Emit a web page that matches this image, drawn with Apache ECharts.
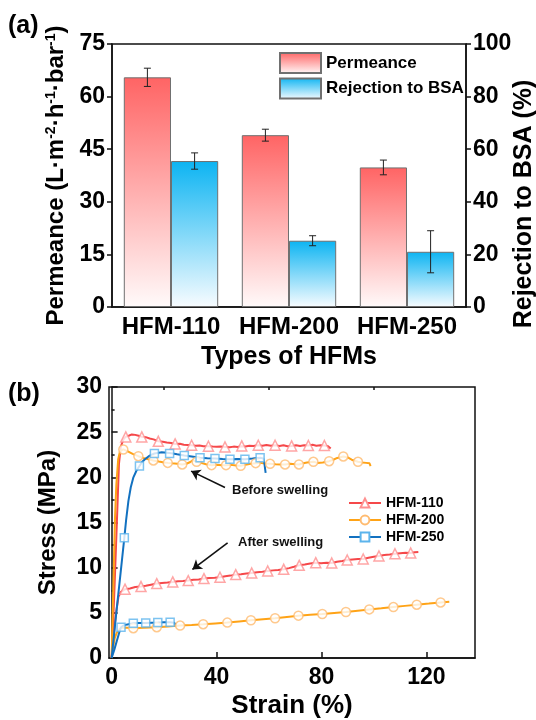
<!DOCTYPE html>
<html>
<head>
<meta charset="utf-8">
<script src="https://cdn.jsdelivr.net/npm/echarts@6/dist/echarts.min.js"></script>
<style>
  html, body { margin: 0; padding: 0; background: #fff; }
  #chart { width: 536px; height: 720px; }
</style>
</head>
<body>
<div id="chart"></div>
<script>
// (a) membrane performance
const categories = ['HFM-110', 'HFM-200', 'HFM-250']
const permeance = [65.5, 49.0, 39.8]
const permeanceErr = [2.6, 1.7, 2.1]
const rejection = [55.5, 25.2, 21.0]
const rejectionErr = [3.1, 1.9, 8.0]

// (b) stress-strain curves, [strain %, stress MPa]
const before110 = [[0,0],[1,7],[2,15],[2.8,21.5],[3.5,23.4],[4.5,24.2],[5.4,24.5],[6.5,24.6],[7.7,24.75],[9,24.7],[10.3,24.6],[11.5,24.5],[13,24.45],[14.5,24.3],[16,24.2],[17.8,24.0],[19.5,23.95],[21,23.85],[22.7,23.8],[24.2,23.7],[26,23.72],[27.5,23.6],[29,23.58],[30.5,23.55],[32,23.5],[33.5,23.52],[35,23.45],[36.9,23.44],[38.5,23.4],[40,23.38],[41.6,23.4],[43.2,23.37],[45,23.33],[46.5,23.4],[48,23.36],[49.6,23.45],[51,23.42],[52.5,23.5],[54,23.46],[55.9,23.55],[57.5,23.5],[59,23.58],[60.7,23.5],[62.3,23.55],[64,23.48],[65.5,23.56],[67,23.45],[68.6,23.48],[70.3,23.55],[71.8,23.47],[73.4,23.55],[75,23.52],[76.6,23.6],[78,23.5],[79.6,23.56],[81.1,23.52],[82.5,23.45],[83.5,23.19]]
const before110Marks = [[5.4,24.47],[11.5,24.47],[17.8,23.99],[24.2,23.7],[30.5,23.55],[36.9,23.44],[43.2,23.37],[49.6,23.48],[55.9,23.55],[62.3,23.55],[68.6,23.48],[75,23.52],[81.1,23.52]]
const after110 = [[0,0],[0.8,2.5],[1.6,4.8],[2.6,6.78],[3.5,7.3],[5.1,7.62],[7,7.7],[9,7.85],[11.2,7.91],[13,8.0],[15,8.12],[17.2,8.24],[19.2,8.3],[21.3,8.35],[23.3,8.42],[25.3,8.5],[27.2,8.52],[29.2,8.57],[31.2,8.65],[33.2,8.7],[35.2,8.79],[37.2,8.85],[39.3,8.88],[41.3,8.94],[43.3,9.05],[45.3,9.12],[47.3,9.23],[49.3,9.28],[51.4,9.35],[53.4,9.41],[55.4,9.5],[57.5,9.55],[59.5,9.63],[61.5,9.7],[63.5,9.75],[65.6,9.82],[67.6,9.95],[69.5,10.1],[71.5,10.26],[73.6,10.35],[75.7,10.45],[77.8,10.55],[79.8,10.5],[81.9,10.55],[83.9,10.52],[85.9,10.65],[87.9,10.75],[89.8,10.85],[91.8,10.9],[93.9,10.95],[95.9,10.96],[97.9,11.1],[99.9,11.2],[101.9,11.29],[103.9,11.4],[106,11.45],[108,11.54],[110,11.6],[112,11.65],[114,11.62],[115.5,11.7],[116.9,11.73]]
const after110Marks = [[5.1,7.62],[11.2,7.91],[17.2,8.24],[23.3,8.42],[29.2,8.57],[35.2,8.79],[41.3,8.94],[47.3,9.23],[53.4,9.41],[59.5,9.63],[65.6,9.82],[71.5,10.26],[77.8,10.55],[83.9,10.52],[89.8,10.85],[95.9,10.96],[101.9,11.29],[108,11.54],[114,11.62]]

const before200 = [[0,0],[0.5,6],[1,12],[1.3,15.6],[1.8,19.2],[2.5,22],[3.2,22.9],[4.46,23.1],[6,22.9],[8,22.6],[10.2,22.34],[12,22.15],[14,22.0],[15.9,21.87],[18,21.75],[20,21.65],[21.4,21.6],[23,21.55],[25,21.5],[26.9,21.43],[28.5,21.5],[30,21.7],[31,21.9],[32.4,21.72],[34,21.6],[36,21.45],[38.1,21.35],[40,21.4],[42,21.33],[43.6,21.35],[45.5,21.38],[47.5,21.3],[49.2,21.28],[51,21.4],[53,21.5],[54.9,21.57],[56.5,21.6],[58.5,21.52],[60.4,21.5],[62.5,21.45],[64.5,21.42],[66.1,21.43],[68,21.5],[70,21.45],[71.4,21.43],[73,21.55],[74.5,21.65],[76.9,21.72],[78.5,21.6],[80.5,21.65],[82.9,21.79],[84.5,21.95],[86,22.15],[88.3,22.31],[90,22.2],[91.5,21.95],[93.9,21.72],[95.5,21.65],[97,21.6],[98.3,21.55],[98.7,21.25]]
const before200Marks = [[4.46,23.08],[10.2,22.34],[15.9,21.87],[21.4,21.6],[26.9,21.43],[32.4,21.72],[38.1,21.35],[43.6,21.35],[49.2,21.28],[54.9,21.57],[60.4,21.5],[66.1,21.43],[71.4,21.43],[76.9,21.72],[82.9,21.79],[88.3,22.31],[93.9,21.72]]
const after200 = [[0,0],[0.6,1.2],[1.2,2.2],[1.9,2.75],[3,3.2],[3.85,3.37],[6,3.35],[8.27,3.3],[12,3.35],[17.2,3.41],[21.5,3.5],[26.1,3.59],[30.5,3.66],[34.9,3.74],[39.5,3.83],[44.1,3.92],[48.6,4.05],[53.1,4.18],[57.7,4.3],[62.3,4.4],[66.8,4.55],[71.2,4.69],[75.7,4.78],[80.3,4.87],[84.8,4.98],[89.3,5.09],[93.8,5.24],[98.2,5.38],[102.8,5.5],[107.4,5.64],[111.8,5.77],[116.3,5.9],[120.9,6.02],[125.4,6.15],[128.7,6.23]]
const after200Marks = [[8.27,3.3],[17.2,3.41],[26.1,3.59],[34.9,3.74],[44.1,3.92],[53.1,4.18],[62.3,4.4],[71.2,4.69],[80.3,4.87],[89.3,5.09],[98.2,5.38],[107.4,5.64],[116.3,5.9],[125.4,6.15]]

const before250 = [[0,0],[1,2.8],[2,5.6],[3,8.3],[4,11.0],[4.84,13.3],[5.5,15.2],[6.4,17.4],[7.3,18.9],[8.3,20.0],[9.4,20.7],[10.6,21.25],[11.6,21.7],[12.7,22.0],[14.5,22.4],[16.3,22.64],[19.1,22.78],[22.1,22.7],[25,22.55],[27.7,22.42],[30.5,22.3],[33.7,22.16],[36.5,22.12],[39.4,22.09],[42.3,22.04],[45.1,22.01],[48,22.03],[50.8,22.01],[53.7,22.08],[56.6,22.16],[57.8,22.1],[58.2,21.6],[58.7,20.5]]
const before250Marks = [[4.84,13.3],[10.6,21.25],[16.3,22.64],[22.1,22.64],[27.7,22.42],[33.7,22.16],[39.4,22.09],[45.1,22.01],[50.8,22.01],[56.6,22.16]]
const after250 = [[0,0],[1,0.9],[2,1.9],[3,2.9],[3.58,3.41],[4.5,3.6],[6,3.72],[8.27,3.85],[10.5,3.87],[13,3.88],[15.3,3.9],[17.6,3.92],[20,3.95],[22.3,3.96],[23.8,3.9],[24.5,3.66]]
const after250Marks = [[3.58,3.41],[8.27,3.85],[13,3.88],[17.6,3.92],[22.3,3.96]]

const strainLabels = [0, 40, 80, 120]
const strainMinor = [20, 60, 100]
// arrows [tail, head] in data coords
const beforeArrow = [[43.2, 18.87], [30.3, 20.69]]
const afterArrow = [[44.2, 12.75], [30.8, 9.81]]

const font = 'Arial, "Liberation Sans", sans-serif'
const ink = '#111'

const red = new echarts.graphic.LinearGradient(0, 0, 0, 1, [
  { offset: 0, color: '#ff6464' }, { offset: 1, color: '#fffafa' }
])
const blue = new echarts.graphic.LinearGradient(0, 0, 0, 1, [
  { offset: 0, color: '#0cb4f2' }, { offset: 1, color: '#f8fcff' }
])

function errorSeries(means, errs, axis, side) {
  return {
    type: 'custom',
    xAxisIndex: 0,
    yAxisIndex: axis,
    z: 5,
    silent: true,
    data: means.map((m, i) => [i, m, errs[i]]),
    renderItem: (params, api) => {
      const i = api.value(0)
      const m = api.value(1)
      const e = api.value(2)
      const band = api.size([1, 0])[0]
      const top = api.coord([i, m + e])
      const bot = api.coord([i, m - e])
      const x = top[0] + side * band * 0.2
      const st = { stroke: '#222', lineWidth: 1 }
      return {
        type: 'group',
        children: [
          { type: 'line', shape: { x1: x, y1: top[1], x2: x, y2: bot[1] }, style: st },
          { type: 'line', shape: { x1: x - 3.5, y1: top[1], x2: x + 3.5, y2: top[1] }, style: st },
          { type: 'line', shape: { x1: x - 3.5, y1: bot[1], x2: x + 3.5, y2: bot[1] }, style: st }
        ]
      }
    }
  }
}

const curveDefs = [
  { name: 'HFM-110', color: '#f5484a', light: '#ff9090', symbol: 'triangle', size: 10,
    curves: [before110, after110], marks: [before110Marks, after110Marks] },
  { name: 'HFM-200', color: '#ffa316', light: '#ffbb70', symbol: 'circle', size: 9,
    curves: [before200, after200], marks: [before200Marks, after200Marks] },
  { name: 'HFM-250', color: '#1271c0', light: '#5cb4ec', symbol: 'rect', size: 8,
    curves: [before250, after250], marks: [before250Marks, after250Marks] }
]

const lineSeries = []
curveDefs.forEach(d => {
  d.curves.forEach(c => {
    lineSeries.push({
      type: 'line', name: d.name, xAxisIndex: 1, yAxisIndex: 2, data: c,
      showSymbol: false, symbol: d.symbol, symbolSize: d.size,
      lineStyle: { color: d.color, width: 2 },
      itemStyle: { color: '#fff', borderColor: d.light, borderWidth: 1.5 },
      z: 2
    })
  })
  d.marks.forEach(m => {
    lineSeries.push({
      type: 'scatter', name: d.name + ' marks', xAxisIndex: 1, yAxisIndex: 2, data: m,
      symbol: d.symbol, symbolSize: d.size,
      itemStyle: { color: '#fff', borderColor: d.light, borderWidth: 1.5 },
      z: 3
    })
  })
})

lineSeries[0].markLine = {
  silent: true,
  symbol: ['none', 'arrow'],
  symbolSize: 9,
  label: { show: false },
  lineStyle: { color: ink, width: 1.6, type: 'solid' },
  data: [
    [{ coord: beforeArrow[0] }, { coord: beforeArrow[1] }],
    [{ coord: afterArrow[0] }, { coord: afterArrow[1] }]
  ]
}

const boldLabel = { color: '#000', fontWeight: 'bold', fontFamily: font }
const axisLine = { lineStyle: { color: ink, width: 1.5 } }

const option = {
  animation: false,
  backgroundColor: '#fff',
  textStyle: { fontFamily: font },
  grid: [
    { left: 112, top: 44, width: 354, height: 263, show: true, borderColor: ink, borderWidth: 1.5 },
    { left: 109, top: 387, width: 366, height: 273, show: true, borderColor: ink, borderWidth: 1.5 }
  ],
  legend: [
    {
      data: ['Permeance', 'Rejection to BSA'],
      orient: 'vertical', left: 274, top: 47,
      icon: 'rect',
      itemWidth: 41, itemHeight: 20, itemGap: 3.5,
      selectedMode: false,
      textStyle: { ...boldLabel, fontSize: 17 }
    },
    {
      data: ['HFM-110', 'HFM-200', 'HFM-250'],
      orient: 'vertical', left: 343, top: 491,
      itemWidth: 32, itemHeight: 11, itemGap: 3,
      selectedMode: false,
      textStyle: { ...boldLabel, fontSize: 14 }
    }
  ],
  xAxis: [
    {
      type: 'category', gridIndex: 0, data: categories,
      axisLine: axisLine,
      axisTick: { alignWithLabel: true, length: 5, lineStyle: { color: ink, width: 1.5 } },
      axisLabel: { ...boldLabel, fontSize: 24, margin: 8, interval: 0 },
      name: 'Types of HFMs', nameLocation: 'middle', nameGap: 38,
      nameTextStyle: { ...boldLabel, fontSize: 25 }
    },
    {
      type: 'value', gridIndex: 1, min: -1, max: 138.5,
      axisLine: axisLine,
      axisTick: { inside: true, length: 6, customValues: strainLabels, lineStyle: { color: ink, width: 1.5 } },
      axisLabel: { ...boldLabel, fontSize: 23, margin: 8, customValues: strainLabels },
      splitLine: { show: false },
      name: 'Strain (%)', nameLocation: 'middle', nameGap: 35,
      nameTextStyle: { ...boldLabel, fontSize: 26 }
    },
    {
      type: 'value', gridIndex: 1, min: -1, max: 138.5,
      axisLine: { show: false },
      axisTick: { inside: true, length: 3, customValues: strainMinor, lineStyle: { color: ink, width: 1.5 } },
      axisLabel: { show: false },
      splitLine: { show: false }
    }
  ],
  yAxis: [
    {
      type: 'value', gridIndex: 0, position: 'left', min: 0, max: 75, interval: 15,
      axisLine: { show: true, ...axisLine },
      axisTick: { show: true, length: 5, lineStyle: { color: ink, width: 1.5 } },
      axisLabel: { ...boldLabel, fontSize: 23, margin: 7 },
      splitLine: { show: false },
      name: 'Permeance (L·m{s|-2}·h{s|-1}·bar{s|-1})',
      nameLocation: 'middle', nameRotate: 90, nameGap: 36,
      nameTextStyle: {
        ...boldLabel, fontSize: 24,
        rich: { s: { ...boldLabel, fontSize: 14, verticalAlign: 'top', lineHeight: 14 } }
      }
    },
    {
      type: 'value', gridIndex: 0, position: 'right', min: 0, max: 100, interval: 20,
      axisLine: { show: true, ...axisLine },
      axisTick: { show: true, length: 5, lineStyle: { color: ink, width: 1.5 } },
      axisLabel: { ...boldLabel, fontSize: 23, margin: 7 },
      splitLine: { show: false }
    },
    {
      type: 'value', gridIndex: 1, min: 0, max: 30, interval: 5,
      axisLine: { show: true, ...axisLine },
      axisTick: { show: true, inside: true, length: 6, lineStyle: { color: ink, width: 1.5 } },
      minorTick: { show: true, splitNumber: 2, length: 3, lineStyle: { color: ink, width: 1.5 } },
      axisLabel: { ...boldLabel, fontSize: 23, margin: 7 },
      splitLine: { show: false },
      name: 'Stress (MPa)', nameLocation: 'middle', nameRotate: 90, nameGap: 49,
      nameTextStyle: { ...boldLabel, fontSize: 24 }
    }
  ],
  graphic: [
    { type: 'text', left: 8, top: 14, style: { text: '(a)', font: 'bold 25px ' + font, fill: '#000' } },
    { type: 'text', left: 8, top: 382, style: { text: '(b)', font: 'bold 25px ' + font, fill: '#000' } },
    {
      type: 'text', x: 524, y: 204, rotation: Math.PI / 2,
      style: { text: 'Rejection to BSA (%)', font: 'bold 25px ' + font, fill: '#000',
        align: 'center', verticalAlign: 'middle', textAlign: 'center', textVerticalAlign: 'middle' }
    },
    { type: 'text', left: 232, top: 484, style: { text: 'Before swelling', font: 'bold 13px ' + font, fill: '#111' } },
    { type: 'text', left: 238, top: 536, style: { text: 'After swelling', font: 'bold 13px ' + font, fill: '#111' } }
  ],
  series: [
    {
      type: 'bar', name: 'Permeance', xAxisIndex: 0, yAxisIndex: 0, data: permeance,
      barGap: '0%', barCategoryGap: '20%',
      itemStyle: { color: red, borderColor: '#707070', borderWidth: 1 }
    },
    {
      type: 'bar', name: 'Rejection to BSA', xAxisIndex: 0, yAxisIndex: 1, data: rejection,
      barGap: '0%', barCategoryGap: '20%',
      itemStyle: { color: blue, borderColor: '#707070', borderWidth: 1 }
    },
    errorSeries(permeance, permeanceErr, 0, -1),
    errorSeries(rejection, rejectionErr, 1, 1),
    ...lineSeries
  ]
}

const chart = echarts.init(document.getElementById('chart'))
chart.setOption(option)
</script>
</body>
</html>
